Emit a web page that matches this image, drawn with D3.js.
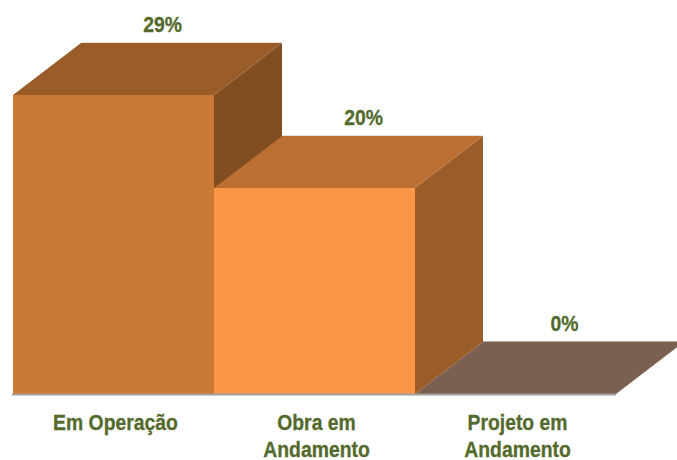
<!DOCTYPE html>
<html>
<head>
<meta charset="utf-8">
<script src="https://cdn.jsdelivr.net/npm/d3@7"></script>
<style>
  html, body { margin: 0; padding: 0; background: #fff; }
  svg { display: block; }
  text { font-family: "Liberation Sans", Arial, sans-serif; font-weight: bold; fill: #536a2c; stroke: #536a2c; stroke-width: 0.3px; }
</style>
</head>
<body>
<svg></svg>
<script>
const categories = [['Em Operação'], ['Obra em', 'Andamento'], ['Projeto em', 'Andamento']];
const values = [29, 20, 0];
const frontColors = ['#cb7a35', '#fb9548', '#8a6a58'];
const topColors = ['#9a5c28', '#bc6f33', '#7b5f50'];
const sideColors = ['#804e20', '#9a5c28', '#7b5f50'];

const width = 677;
const height = 460;
const depthX = 68;
const depthY = 52;
// no narrow font here, so squeeze Liberation Sans sideways
const fontSize = 22;
const squeeze = 0.88;

const svg = d3.select('svg')
  .attr('width', width)
  .attr('height', height);

const x = d3.scaleBand()
  .domain(d3.range(values.length))
  .range([13, 616]);

const y = d3.scaleLinear()
  .domain([0, 29])
  .rangeRound([394, 95]);

const poly = pts => pts.map(p => p.join(',')).join(' ');

const bar = svg.append('g')
  .selectAll('g')
  .data(values)
  .join('g');

// back edge highlight, the source has a faint halo round the boxes
bar.append('line')
  .attr('x1', (d, i) => x(i) + depthX)
  .attr('x2', (d, i) => x(i) + x.bandwidth() + depthX)
  .attr('y1', d => y(d) - depthY - 0.5)
  .attr('y2', d => y(d) - depthY - 0.5)
  .attr('stroke', d => d === 0 ? '#b5aaa3' : '#eadfd6')
  .attr('stroke-width', 1);

bar.append('polygon')
  .attr('fill', (d, i) => sideColors[i])
  .attr('points', (d, i) => {
    const r = x(i) + x.bandwidth();
    return poly([[r, y(d)], [r + depthX, y(d) - depthY], [r + depthX, y(0) - depthY], [r, y(0)]]);
  });

bar.append('polygon')
  .attr('fill', (d, i) => topColors[i])
  .attr('points', (d, i) => {
    const l = x(i), r = l + x.bandwidth();
    return poly([[l, y(d)], [l + depthX, y(d) - depthY], [r + depthX, y(d) - depthY], [r, y(d)]]);
  });

bar.append('rect')
  .attr('x', (d, i) => x(i))
  .attr('y', d => y(d))
  .attr('width', x.bandwidth())
  .attr('height', d => y(0) - y(d))
  .attr('fill', (d, i) => frontColors[i]);

// floor line
svg.append('line')
  .attr('x1', x.range()[0] - 1)
  .attr('x2', x.range()[1])
  .attr('y1', y(0) + 0.5)
  .attr('y2', y(0) + 0.5)
  .attr('stroke', '#a3a09c')
  .attr('stroke-width', 2);

svg.append('g')
  .selectAll('text')
  .data(values)
  .join('text')
  .attr('transform', (d, i) => `translate(${x(i) + x.bandwidth() / 2 + 49},${y(d) - depthY - 11}) scale(${squeeze},1)`)
  .attr('text-anchor', 'middle')
  .attr('font-size', fontSize)
  .text(d => d + '%');

const axis = svg.append('g')
  .attr('transform', `translate(2,${y(0)})`)
  .call(d3.axisBottom(x).tickSize(0).tickFormat(''));

axis.select('.domain').remove();

axis.selectAll('.tick text')
  .attr('font-size', fontSize)
  .attr('transform', `scale(${squeeze},1)`)
  .attr('y', 0)
  .attr('dy', 0)
  .each(function(d, i) {
    d3.select(this).selectAll('tspan')
      .data(categories[i])
      .join('tspan')
      .attr('x', 0)
      .attr('y', (t, j) => 36 + j * 27)
      .text(t => t);
  });
</script>
</body>
</html>
